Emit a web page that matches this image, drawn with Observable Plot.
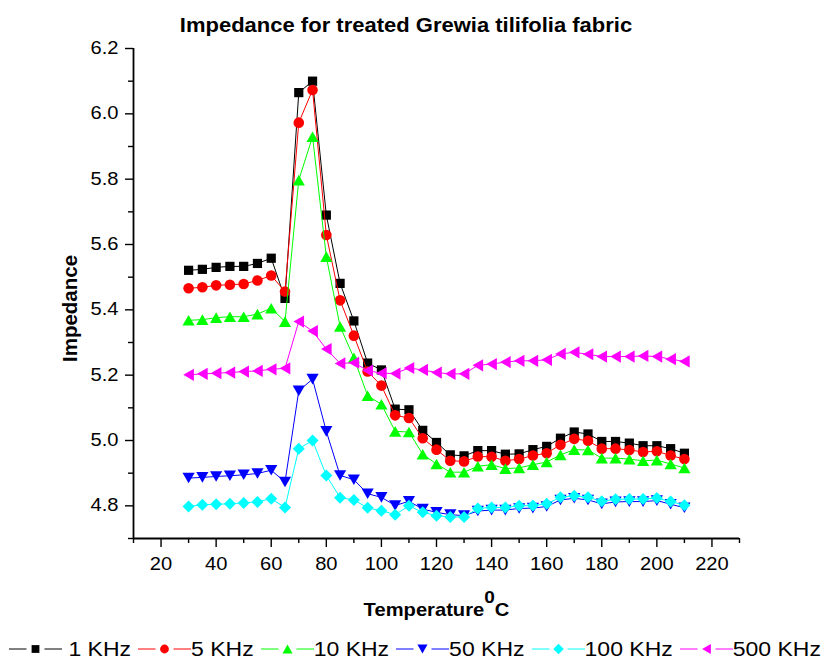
<!DOCTYPE html>
<html>
<head>
<meta charset="utf-8">
<script src="https://cdn.jsdelivr.net/npm/d3@7"></script>
<script src="https://cdn.jsdelivr.net/npm/@observablehq/plot@0.6"></script>
<style>
  body { margin: 0; background: #fff; font-family: "Liberation Sans", Arial, sans-serif; color: #000; }
  #chart { width: 824px; height: 659px; overflow: hidden; }
  .title { height: 38px; box-sizing: border-box; padding-top: 14px; padding-right: 12px; text-align: center; line-height: 22px; }
  .title span { display: inline-block; font-weight: bold; font-size: 22px; transform: scaleY(0.95); }
  .legend { height: 39px; box-sizing: border-box; padding-top: 18px; padding-left: 9px; display: flex; align-items: center; }
  .legend .item { display: flex; align-items: center; height: 22px; margin-right: 7px; }
  .legend .item svg { display: block; }
  .legend .item span { font-size: 23px; line-height: 22px; display: inline-block; transform: scaleY(0.87); white-space: pre; }
</style>
</head>
<body>
<div id="chart"></div>
<script>
// Temperature (°C) at which impedance was measured
const temperatures = [30, 35, 40, 45, 50, 55, 60, 65, 70, 75, 80, 85, 90, 95, 100, 105, 110, 115, 120,
  125, 130, 135, 140, 145, 150, 155, 160, 165, 170, 175, 180, 185, 190, 195, 200, 205, 210];

// Impedance per frequency
const imp1k = [5.521, 5.524, 5.530, 5.533, 5.533, 5.542, 5.558, 5.435, 6.065, 6.100, 5.690, 5.481, 5.366,
  5.237, 5.216, 5.096, 5.094, 5.031, 4.994, 4.956, 4.953, 4.969, 4.969, 4.958, 4.959, 4.972, 4.982,
  5.007, 5.026, 5.020, 4.997, 4.997, 4.992, 4.984, 4.984, 4.975, 4.961];
const imp5k = [5.466, 5.469, 5.475, 5.477, 5.479, 5.490, 5.505, 5.456, 5.973, 6.073, 5.629, 5.429, 5.321,
  5.211, 5.168, 5.077, 5.069, 5.007, 4.972, 4.938, 4.936, 4.951, 4.950, 4.938, 4.943, 4.954, 4.961,
  4.987, 5.005, 4.999, 4.975, 4.975, 4.971, 4.965, 4.967, 4.954, 4.943];
const imp10k = [5.368, 5.370, 5.376, 5.379, 5.379, 5.387, 5.405, 5.364, 5.797, 5.930, 5.563, 5.349, 5.253,
  5.137, 5.111, 5.028, 5.026, 4.958, 4.928, 4.903, 4.903, 4.921, 4.926, 4.914, 4.916, 4.926, 4.934,
  4.956, 4.972, 4.971, 4.946, 4.946, 4.943, 4.938, 4.940, 4.928, 4.916];
const imp50k = [4.885, 4.887, 4.890, 4.892, 4.895, 4.899, 4.909, 4.873, 5.152, 5.188, 5.028, 4.893, 4.880,
  4.837, 4.826, 4.801, 4.814, 4.790, 4.780, 4.773, 4.770, 4.784, 4.787, 4.787, 4.792, 4.793, 4.798,
  4.818, 4.823, 4.818, 4.806, 4.812, 4.813, 4.813, 4.816, 4.805, 4.794];
const imp100k = [4.798, 4.803, 4.805, 4.806, 4.809, 4.812, 4.822, 4.795, 4.975, 5.000, 4.893, 4.825, 4.818,
  4.794, 4.785, 4.773, 4.800, 4.780, 4.770, 4.766, 4.766, 4.792, 4.795, 4.795, 4.800, 4.801, 4.806,
  4.826, 4.831, 4.826, 4.814, 4.820, 4.821, 4.821, 4.824, 4.813, 4.802];
const imp500k = [5.201, 5.204, 5.206, 5.208, 5.211, 5.213, 5.218, 5.221, 5.364, 5.335, 5.280, 5.236, 5.238,
  5.214, 5.206, 5.205, 5.222, 5.216, 5.208, 5.204, 5.204, 5.230, 5.234, 5.240, 5.244, 5.244, 5.247,
  5.265, 5.270, 5.264, 5.257, 5.257, 5.257, 5.259, 5.257, 5.249, 5.242];

// Axis ticks
const xMajorTicks = [20, 40, 60, 80, 100, 120, 140, 160, 180, 200, 220];
const xMinorTicks = [10, 30, 50, 70, 90, 110, 130, 150, 170, 190, 210, 230];
const yMajorTicks = [4.8, 5.0, 5.2, 5.4, 5.6, 5.8, 6.0, 6.2];
const yMinorTicks = [4.7, 4.9, 5.1, 5.3, 5.5, 5.7, 5.9, 6.1];

// Marker shapes: closed polygons in units of the dot radius, centred on their bounding box
function polygonSymbol(points) {
  return {
    draw(context, size) {
      const r = Math.sqrt(size / Math.PI);
      context.moveTo(points[0][0] * r, points[0][1] * r);
      for (let i = 1; i < points.length; ++i) context.lineTo(points[i][0] * r, points[i][1] * r);
      context.closePath();
    }
  };
}
const triangleUp = polygonSymbol([[0, -1], [1.15, 1], [-1.15, 1]]);
const triangleDown = polygonSymbol([[0, 1], [1.15, -1], [-1.15, -1]]);
const triangleLeft = polygonSymbol([[-1, 0], [1, -1.15], [1, 1.15]]);
const diamond = polygonSymbol([[0, -1.2], [1.2, 0], [0, 1.2], [-1.2, 0]]);

const series = [
  {label: " 1 KHz", values: imp1k, color: "#000000", symbol: "square", r: 5.2},
  {label: "5 KHz", values: imp5k, color: "#ff0000", symbol: "circle", r: 5.3},
  {label: "10 KHz", values: imp10k, color: "#00ff00", symbol: triangleUp, r: 5.3},
  {label: "50 KHz", values: imp50k, color: "#0000ff", symbol: triangleDown, r: 5.3},
  {label: "100 KHz", values: imp100k, color: "#00ffff", symbol: diamond, r: 5},
  {label: "500 KHz", values: imp500k, color: "#ff00ff", symbol: triangleLeft, r: 5.3}
];

const seriesMarks = series.flatMap(s => {
  const rows = temperatures.map((T, i) => ({T, value: s.values[i]}));
  return [
    Plot.line(rows, {x: "T", y: "value", stroke: s.color, strokeWidth: 1}),
    Plot.dot(rows, {x: "T", y: "value", symbol: s.symbol, r: s.r, fill: s.color, stroke: "none"})
  ];
});

const chart = document.getElementById("chart");

// Title
const title = document.createElement("div");
title.className = "title";
title.innerHTML = "<span>Impedance for treated Grewia tilifolia fabric</span>";
chart.appendChild(title);

const svg = Plot.plot({
  width: 824,
  height: 582,
  marginTop: 10,
  marginBottom: 82,
  marginLeft: 133,
  marginRight: 85,
  x: {domain: [10, 230], label: null},
  y: {domain: [4.7, 6.2], label: null},
  style: {fontFamily: "'Liberation Sans', Arial, sans-serif", fontSize: "17.5px", color: "#000", background: "#fff", overflow: "visible"},
  marks: [
    Plot.axisX({ticks: xMinorTicks, tickSize: 5, tickFormat: () => "", strokeWidth: 1.4, label: null}),
    Plot.axisX({ticks: xMajorTicks, tickSize: 9, tickPadding: 10, tickFormat: d => String(d), strokeWidth: 1.4, label: null}),
    Plot.axisY({ticks: yMinorTicks, tickSize: 5, tickFormat: () => "", strokeWidth: 1.4, label: null}),
    Plot.axisY({ticks: yMajorTicks, tickSize: 8, tickPadding: 7, tickFormat: d3.format(".1f"), strokeWidth: 1.4, label: null}),
    Plot.ruleY([4.7], {stroke: "#000", strokeWidth: 1.8}),
    Plot.ruleX([10], {stroke: "#000", strokeWidth: 1.8}),
    ...seriesMarks,
    Plot.text(["Impedance"], {frameAnchor: "left", dx: -63, dy: 15, rotate: -90, textAnchor: "middle", lineAnchor: "middle", fontWeight: "bold", fontSize: 20.5}),
    Plot.text(["Temperature"], {frameAnchor: "bottom", dy: 72, textAnchor: "middle", lineAnchor: "middle", fontWeight: "bold", fontSize: 18})
  ]
});
chart.appendChild(svg);

// Tick labels are drawn slightly wide
d3.select(svg)
  .selectAll('g[aria-label="x-axis tick label"] text, g[aria-label="y-axis tick label"] text')
  .each(function() {
    const t = this.getAttribute("transform") || "";
    this.setAttribute("transform", t + " scale(1.15,1)");
  });

// x title with superscript degree mark: Temperature⁰C
d3.select(svg).selectAll("text")
  .filter(function() { return this.textContent === "Temperature"; })
  .each(function() {
    const t = this.getAttribute("transform") || "";
    this.setAttribute("transform", t + " scale(1.12,1)");
    const sel = d3.select(this);
    sel.text("");
    sel.append("tspan").text("Temperature");
    sel.append("tspan").attr("dy", -13).attr("font-size", 17).text("0");
    sel.append("tspan").attr("dy", 13).text("C");
  });

// Legend
const legend = document.createElement("div");
legend.className = "legend";
series.forEach(s => {
  const item = document.createElement("div");
  item.className = "item";
  const g = d3.create("svg").attr("width", 53).attr("height", 22);
  g.append("line").attr("x1", 0).attr("x2", 17.5).attr("y1", 11).attr("y2", 11).attr("stroke", s.color).attr("stroke-width", 1);
  g.append("line").attr("x1", 35.5).attr("x2", 53).attr("y1", 11).attr("y2", 11).attr("stroke", s.color).attr("stroke-width", 1);
  const sym = typeof s.symbol === "string" ? (s.symbol === "square" ? d3.symbolSquare : d3.symbolCircle) : s.symbol;
  g.append("path")
    .attr("transform", "translate(26.5,11)")
    .attr("d", d3.symbol(sym, Math.PI * 4.4 * 4.4)())
    .attr("fill", s.color);
  item.appendChild(g.node());
  const span = document.createElement("span");
  span.textContent = s.label;
  item.appendChild(span);
  legend.appendChild(item);
});
chart.appendChild(legend);
</script>
</body>
</html>
